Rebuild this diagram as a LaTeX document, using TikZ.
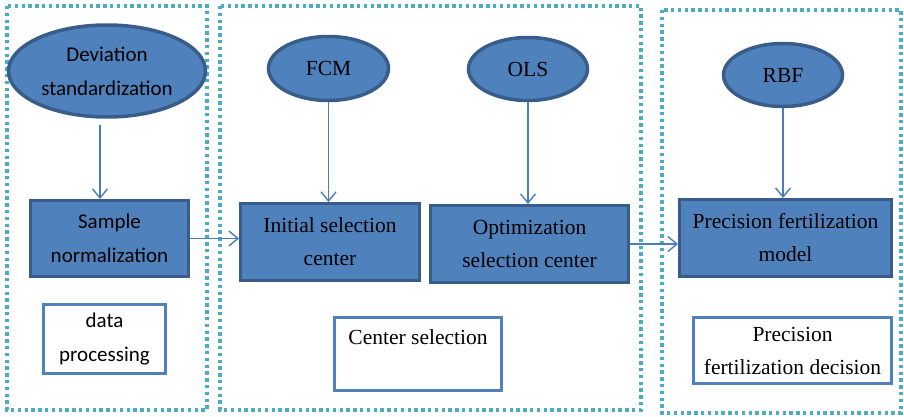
\documentclass[tikz,border=0pt]{standalone}
\usepackage{fontspec}
\setmainfont{Liberation Serif}
\newfontfamily\calfont{Carlito}
\usetikzlibrary{shapes.geometric,arrows.meta}

\definecolor{boxfill}{HTML}{4F81BD}
\definecolor{boxedge}{HTML}{385D8A}
\definecolor{arrowcol}{HTML}{4A7EBB}
\definecolor{framecol}{HTML}{4BACC6}

\tikzset{
  txt/.style={align=center, text=black, font=\fontsize{21.5}{33}\selectfont},
  caltxt/.style={align=center, text=black, font=\calfont\fontsize{21}{34}\selectfont},
  oval/.style={ellipse, fill=boxfill, draw=boxedge, line width=3.5pt, inner sep=0pt},
  bluebox/.style={rectangle, fill=boxfill, draw=boxedge, line width=3pt, inner sep=0pt},
  whitebox/.style={rectangle, fill=white, draw=boxfill, line width=3.5pt, inner sep=0pt},
  frame/.style={draw=framecol, line width=3.4pt, dash pattern=on 3.4pt off 3.4pt},
  arr/.style={draw=arrowcol, line width=1.4pt,
    -{Straight Barb[length=9pt, width=15pt, line width=1.4pt]}}
}

\begin{document}
\begin{tikzpicture}[x=1pt, y=-1pt]
  \useasboundingbox (0,0) rectangle (904,417);

  % dotted group frames
  \draw[frame] (7,6) rectangle (207,410);
  \draw[frame] (220,6) rectangle (641,410);
  \draw[frame] (662,10) rectangle (901,413);

  % data processing group
  \node[oval, caltxt, minimum width=197pt, minimum height=92pt] (dev) at (107,71)
    {Deviation\\standardization};
  \node[bluebox, caltxt, minimum width=158pt, minimum height=76pt] (samp) at (109.5,238.5)
    {Sample\\normalization};
  \node[whitebox, caltxt, minimum width=122pt, minimum height=69pt] (dproc) at (104.5,339)
    {data\\processing};

  % center selection group
  \node[oval, txt, minimum width=120pt, minimum height=64pt] (fcm) at (328.5,68.5) {FCM};
  \node[oval, txt, minimum width=119pt, minimum height=63pt] (ols) at (528,69) {OLS};
  \node[bluebox, txt, minimum width=179pt, minimum height=77pt] (init) at (330,242)
    {Initial selection\\center};
  \node[bluebox, txt, minimum width=198pt, minimum height=77pt] (opt) at (529.5,244)
    {Optimization\\selection center};
  \node[whitebox, txt, minimum width=167pt, minimum height=73pt] (csel) at (418,354)
    {Center selection\\\mbox{}};

  % precision fertilization group
  \node[oval, txt, minimum width=119pt, minimum height=63pt] (rbf) at (783,75) {RBF};
  \node[bluebox, txt, minimum width=212pt, minimum height=77pt] (model) at (785.5,238)
    {Precision fertilization\\model};
  \node[whitebox, txt, minimum width=198pt, minimum height=66pt] (dec) at (792.5,350.5)
    {Precision\\fertilization decision};

  % connectors
  \draw[arr, shorten <=6pt] (dev.south -| 100,0) -- (samp.north -| 100,0);
  \draw[arr] (fcm.south) -- (fcm.south |- init.north);
  \draw[arr] (ols.south) -- (ols.south |- opt.north);
  \draw[arr] (rbf.south) -- (rbf.south |- model.north);
  \draw[arr] (samp.east) -- (init.west |- samp.east);
  \draw[arr] (opt.east) -- (model.west |- opt.east);
\end{tikzpicture}
\end{document}
